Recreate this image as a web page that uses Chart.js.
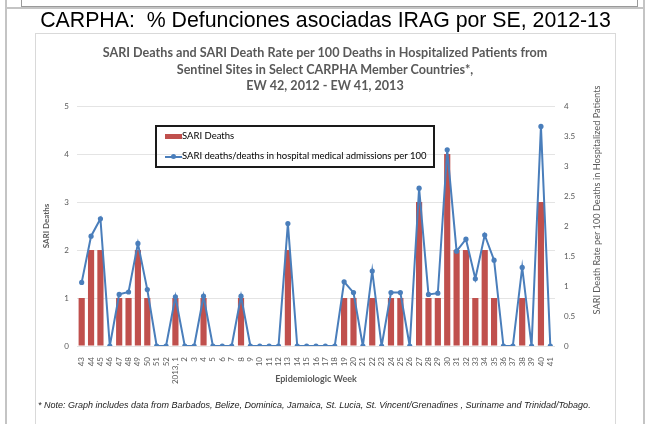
<!DOCTYPE html>
<html>
<head>
<meta charset="utf-8">
<script src="https://cdn.jsdelivr.net/npm/chart.js@4.4.1/dist/chart.umd.min.js"></script>
<style>
  html, body { margin:0; padding:0; background:#fff; }
  body { width:654px; height:424px; position:relative; overflow:hidden; font-family: Lato, "Open Sans", sans-serif; }
  #c { position:absolute; left:0; top:0; }
  .abs { position:absolute; }
  #topbox { left:21px; top:-10px; width:615px; height:15px; border:1px solid #9a9a9a; }
  #hline { left:5px; top:7px; width:640px; height:2px; background:#c4c4c4; }
  #vl { left:5px; top:0; width:2px; height:424px; background:#c4c4c4; }
  #vr { left:643px; top:0; width:2px; height:424px; background:#c4c4c4; }
  #chartbox { left:35px; top:33px; width:579px; height:400px; border:1px solid #d9d9d9; }
  #maintitle { left:0; top:8px; width:651px; text-align:center; font-family:"Liberation Sans", Arial, sans-serif; font-size:21.3px; color:#000; white-space:nowrap; }
  #ctitle { left:36px; top:45px; width:578px; text-align:center; font-weight:bold; font-size:12.6px; line-height:16.5px; color:#595959; }
  #rtitle { left:596px; top:200px; width:0; height:0; }
  #rtitle span { position:absolute; left:0; top:0; transform:translate(-50%,-50%) rotate(-90deg); white-space:nowrap; font-size:9.2px; color:#595959; }
  #legend { left:155px; top:125px; width:276px; height:39px; border:2px solid #1a1a1a; font-size:9.5px; color:#000; }
  .li { position:absolute; left:8px; white-space:nowrap; }
  .sw { display:inline-block; vertical-align:middle; }
  #note { left:38px; top:400px; font-family:"Liberation Sans", Arial, sans-serif; font-style:italic; font-size:9px; color:#222; white-space:nowrap; }
</style>
</head>
<body>
<canvas id="c" width="654" height="424"></canvas>
<div class="abs" id="topbox"></div>
<div class="abs" id="hline"></div>
<div class="abs" id="vl"></div>
<div class="abs" id="vr"></div>
<div class="abs" id="chartbox"></div>
<div class="abs" id="maintitle">CARPHA:&nbsp; % Defunciones asociadas IRAG por SE, 2012-13</div>
<div class="abs" id="ctitle">SARI Deaths and SARI Death Rate per 100 Deaths in Hospitalized Patients from<br>Sentinel Sites in Select CARPHA Member Countries*,<br>EW 42, 2012 - EW 41, 2013</div>
<div class="abs" id="rtitle"><span>SARI Death Rate per 100 Deaths in Hospitalized Patients</span></div>
<div class="abs" id="legend">
  <div class="li" style="top:3px;"><span class="sw" style="width:17px;height:5px;background:#C0504D;"></span>SARI Deaths</div>
  <div class="li" style="top:23px;"><span class="sw" style="width:17px;height:2px;background:#4A7EBB;position:relative;"><span style="position:absolute;left:6px;top:-2px;width:5px;height:5px;border-radius:50%;background:#4A7EBB;"></span></span>SARI deaths/deaths in hospital medical admissions per 100</div>
</div>
<div class="abs" id="note">* Note: Graph includes data from Barbados, Belize, Dominica, Jamaica, St. Lucia, St. Vincent/Grenadines , Suriname and Trinidad/Tobago.</div>
<script>
const weeks = ['43','44','45','46','47','48','49','50','51','52','2013, 1','2','3','4','5','6','7','8','9','10','11','12','13','14','15','16','17','18','19','20','21','22','23','24','25','26','27','28','29','30','31','32','33','34','35','36','37','38','39','40','41'];
const sariDeaths = [1,2,2,0,1,1,2,1,0,0, 1,0,0,1,0,0,0,1,0,0,0,0,2,0,0,0,0,0,1,1,0,1,0,1,1,0,3,1,1,4,2,2,1,2,1,0,0,1,0,3,0];
const sariRate = [1.06,1.83,2.12,0,0.86,0.9,1.71,0.94,0,0, 0.82,0,0,0.83,0,0,0,0.83,0,0,0,0,2.04,0,0,0,0,0,1.07,0.89,0,1.25,0,0.89,0.89,0,2.63,0.86,0.88,3.27,1.58,1.78,1.12,1.85,1.43,0,0,1.31,0,3.66,0];
const leftTicksMax = 5, rightTicksMax = 4;

Chart.defaults.font.family = 'Lato, "Open Sans", sans-serif';
new Chart(document.getElementById('c'), {
  data: {
    labels: weeks,
    datasets: [
      { type:'line', label:'SARI deaths/deaths in hospital medical admissions per 100', data:sariRate, yAxisID:'y1',
        borderColor:'#4A7EBB', backgroundColor:'#4A7EBB', borderWidth:2, pointRadius:2.6, pointBackgroundColor:'#4A7EBB', pointBorderWidth:0, tension:0, order:0 },
      { type:'bar', label:'SARI Deaths', data:sariDeaths, yAxisID:'y', backgroundColor:'#C0504D', barPercentage:0.66, categoryPercentage:1, order:1 }
    ]
  },
  options: {
    responsive:false, animation:false, devicePixelRatio:1,
    layout:{ padding:{ left:40, right:50, top:106, bottom:38 } },
    plugins:{ legend:{ display:false }, tooltip:{ enabled:false } },
    scales:{
      x:{ grid:{ display:false }, border:{ display:false },
          ticks:{ autoSkip:false, maxRotation:90, minRotation:90, font:{ size:8 }, color:'#595959', padding:3 },
          title:{ display:true, text:'Epidemiologic Week', font:{ size:9, weight:'bold' }, color:'#595959', padding:{top:0,bottom:2} },
          afterFit(s){ s.height = 40; } },
      y:{ position:'left', min:0, max:leftTicksMax, ticks:{ stepSize:1, padding:8, font:{ size:8 }, color:'#595959' },
          grid:{ color:'#E4E4E4', drawTicks:false }, border:{ display:false },
          title:{ display:true, text:'SARI Deaths', font:{ size:8, weight:'bold' }, color:'#595959', padding:2 },
          afterFit(s){ s.width = 37; } },
      y1:{ position:'right', min:0, max:rightTicksMax,
           ticks:{ stepSize:0.5, padding:9, font:{ size:8 }, color:'#595959', callback:(v)=>String(Math.round(v*10)/10) },
           grid:{ display:false, drawTicks:false }, border:{ display:false },
           afterFit(s){ s.width = 49; } }
    }
  }
});
</script>
</body>
</html>
